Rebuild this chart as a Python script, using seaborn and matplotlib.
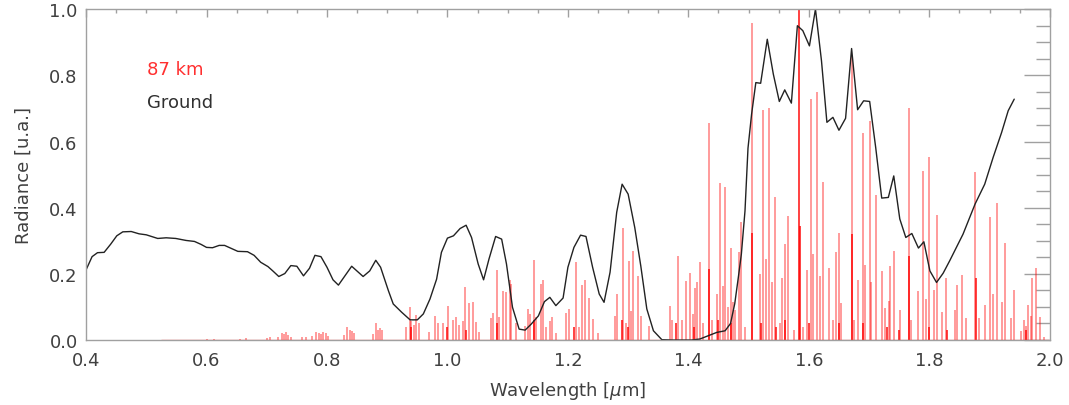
import matplotlib
matplotlib.use('Agg')
import matplotlib.pyplot as plt
import pandas as pd
import seaborn as sns
from matplotlib.ticker import MultipleLocator, FormatStrFormatter

# ground spectrum (black curve)
ground_wl = [0.400, 0.410, 0.419, 0.430, 0.441, 0.451, 0.461, 0.475, 0.488, 0.500,
             0.519, 0.533, 0.549, 0.566, 0.580, 0.591, 0.600, 0.610, 0.621, 0.630,
             0.641, 0.652, 0.668, 0.679, 0.690, 0.702, 0.710, 0.720, 0.730, 0.740,
             0.750, 0.761, 0.771, 0.780, 0.790, 0.800, 0.810, 0.819, 0.841, 0.860,
             0.871, 0.881, 0.889, 0.902, 0.910, 0.924, 0.938, 0.950, 0.960, 0.971,
             0.982, 0.990, 1.000, 1.010, 1.021, 1.031, 1.040, 1.051, 1.060, 1.069,
             1.080, 1.090, 1.098, 1.108, 1.119, 1.129, 1.139, 1.151, 1.161, 1.170,
             1.180, 1.192, 1.200, 1.210, 1.221, 1.230, 1.241, 1.252, 1.260, 1.270,
             1.281, 1.290, 1.300, 1.311, 1.321, 1.331, 1.342, 1.356, 1.375, 1.405,
             1.419, 1.436, 1.447, 1.461, 1.470, 1.477, 1.483, 1.488, 1.494, 1.499,
             1.505, 1.512, 1.520, 1.531, 1.541, 1.551, 1.560, 1.571, 1.581, 1.590,
             1.601, 1.611, 1.621, 1.630, 1.640, 1.650, 1.661, 1.671, 1.681, 1.691,
             1.701, 1.711, 1.721, 1.732, 1.741, 1.751, 1.761, 1.771, 1.782, 1.791,
             1.801, 1.812, 1.823, 1.834, 1.856, 1.876, 1.892, 1.906, 1.920, 1.931,
             1.941]
ground_rad = [0.212, 0.252, 0.264, 0.265, 0.290, 0.315, 0.327, 0.328, 0.321, 0.318,
              0.307, 0.309, 0.307, 0.301, 0.298, 0.289, 0.280, 0.279, 0.286, 0.286,
              0.277, 0.268, 0.267, 0.256, 0.235, 0.222, 0.209, 0.192, 0.201, 0.225,
              0.223, 0.194, 0.217, 0.256, 0.252, 0.220, 0.182, 0.166, 0.223, 0.192,
              0.209, 0.241, 0.220, 0.149, 0.109, 0.084, 0.061, 0.061, 0.079, 0.124,
              0.184, 0.265, 0.308, 0.315, 0.337, 0.347, 0.310, 0.230, 0.182, 0.245,
              0.313, 0.305, 0.230, 0.099, 0.033, 0.030, 0.048, 0.073, 0.116, 0.129,
              0.104, 0.127, 0.220, 0.280, 0.317, 0.313, 0.220, 0.139, 0.114, 0.205,
              0.386, 0.471, 0.441, 0.340, 0.224, 0.094, 0.028, 0.001, 0.000, 0.000,
              0.003, 0.015, 0.023, 0.028, 0.050, 0.110, 0.190, 0.260, 0.390, 0.580,
              0.683, 0.778, 0.776, 0.909, 0.804, 0.721, 0.756, 0.716, 0.950, 0.935,
              0.889, 1.000, 0.844, 0.658, 0.673, 0.634, 0.670, 0.881, 0.696, 0.723,
              0.721, 0.582, 0.429, 0.431, 0.496, 0.366, 0.310, 0.322, 0.278, 0.297,
              0.209, 0.174, 0.202, 0.240, 0.320, 0.411, 0.471, 0.552, 0.627, 0.693,
              0.728]

# 87 km emission lines (faint, anti-aliased looking)
line_wl = [0.600, 0.612, 0.655, 0.665, 0.700, 0.705, 0.718, 0.725, 0.728, 0.732,
           0.736, 0.740, 0.758, 0.765, 0.775, 0.782, 0.786, 0.790, 0.794, 0.798,
           0.802, 0.828, 0.834, 0.838, 0.841, 0.845, 0.877, 0.882, 0.885, 0.888,
           0.891, 0.932, 0.938, 0.940, 0.944, 0.948, 0.952, 0.970, 0.979, 0.985,
           0.992, 1.001, 1.009, 1.014, 1.019, 1.025, 1.029, 1.036, 1.042, 1.047,
           1.053, 1.073, 1.076, 1.083, 1.086, 1.093, 1.098, 1.104, 1.106, 1.113,
           1.129, 1.134, 1.137, 1.144, 1.147, 1.155, 1.159, 1.163, 1.170, 1.173,
           1.180, 1.197, 1.201, 1.213, 1.218, 1.223, 1.228, 1.235, 1.241, 1.250,
           1.278, 1.282, 1.291, 1.296, 1.302, 1.304, 1.308, 1.316, 1.322, 1.334,
           1.369, 1.372, 1.383, 1.389, 1.396, 1.403, 1.408, 1.411, 1.414, 1.419,
           1.425, 1.435, 1.440, 1.447, 1.452, 1.457, 1.461, 1.466, 1.470, 1.474,
           1.478, 1.484, 1.488, 1.494, 1.506, 1.519, 1.524, 1.529, 1.534, 1.539,
           1.544, 1.552, 1.555, 1.560, 1.566, 1.575, 1.590, 1.597, 1.603, 1.607,
           1.613, 1.619, 1.624, 1.634, 1.640, 1.645, 1.650, 1.654, 1.671, 1.675,
           1.682, 1.690, 1.693, 1.701, 1.704, 1.712, 1.721, 1.726, 1.733, 1.735,
           1.742, 1.751, 1.766, 1.770, 1.782, 1.790, 1.794, 1.800, 1.808, 1.812,
           1.821, 1.827, 1.842, 1.846, 1.855, 1.861, 1.876, 1.882, 1.893, 1.901,
           1.906, 1.913, 1.921, 1.926, 1.936, 1.940, 1.953, 1.957, 1.960, 1.964,
           1.969, 1.971, 1.977, 1.984, 1.990]
line_rad = [0.004, 0.003, 0.004, 0.005, 0.006, 0.008, 0.010, 0.022, 0.018, 0.025,
            0.015, 0.010, 0.008, 0.010, 0.012, 0.025, 0.020, 0.018, 0.025, 0.020,
            0.012, 0.015, 0.038, 0.030, 0.026, 0.020, 0.018, 0.051, 0.030, 0.035,
            0.030, 0.038, 0.099, 0.058, 0.045, 0.076, 0.053, 0.025, 0.073, 0.051,
            0.050, 0.104, 0.060, 0.069, 0.045, 0.058, 0.159, 0.112, 0.114, 0.055,
            0.025, 0.066, 0.082, 0.212, 0.070, 0.149, 0.145, 0.182, 0.169, 0.050,
            0.043, 0.094, 0.080, 0.242, 0.070, 0.169, 0.182, 0.040, 0.058, 0.070,
            0.020, 0.082, 0.094, 0.235, 0.040, 0.166, 0.181, 0.127, 0.063, 0.020,
            0.073, 0.139, 0.340, 0.050, 0.240, 0.088, 0.270, 0.194, 0.073, 0.043,
            0.104, 0.060, 0.253, 0.060, 0.179, 0.204, 0.080, 0.156, 0.174, 0.237,
            0.050, 0.656, 0.060, 0.139, 0.474, 0.164, 0.464, 0.100, 0.277, 0.114,
            0.090, 0.267, 0.356, 0.040, 0.957, 0.201, 0.695, 0.245, 0.700, 0.174,
            0.433, 0.050, 0.189, 0.290, 0.376, 0.030, 0.040, 0.211, 0.728, 0.260,
            0.750, 0.194, 0.479, 0.219, 0.060, 0.265, 0.325, 0.111, 0.859, 0.060,
            0.181, 0.625, 0.227, 0.663, 0.174, 0.438, 0.209, 0.097, 0.117, 0.223,
            0.270, 0.091, 0.700, 0.060, 0.147, 0.512, 0.124, 0.552, 0.151, 0.378,
            0.084, 0.189, 0.091, 0.166, 0.196, 0.066, 0.507, 0.066, 0.106, 0.371,
            0.139, 0.413, 0.114, 0.292, 0.066, 0.152, 0.028, 0.060, 0.043, 0.106,
            0.073, 0.189, 0.217, 0.071, 0.010]

# strong (saturated) lines
strong_wl = [0.939, 1.000, 1.030, 1.082, 1.143, 1.210, 1.290, 1.300, 1.380, 1.410,
             1.435, 1.450, 1.470, 1.506, 1.520, 1.545, 1.560, 1.584, 1.585, 1.600,
             1.650, 1.671, 1.690, 1.730, 1.750, 1.767, 1.800, 1.830, 1.878, 1.960]
strong_rad = [0.040, 0.040, 0.030, 0.050, 0.060, 0.040, 0.060, 0.040, 0.050, 0.040,
              0.214, 0.060, 0.050, 0.325, 0.050, 0.040, 0.060, 1.000, 0.345, 0.050,
              0.050, 0.320, 0.050, 0.040, 0.030, 0.255, 0.040, 0.030, 0.187, 0.030]

# red spectrum extends over this range (baseline)
red_range = [0.525, 1.998]

ground = pd.DataFrame({'wl': ground_wl, 'rad': ground_rad})

sns.set_style('white')
plt.rcParams['font.family'] = ['DejaVu Sans']

fig, ax = plt.subplots(figsize=(10.69, 4.06), dpi=100)
fig.subplots_adjust(left=0.0805, right=0.982, bottom=0.160, top=0.975)

txt = '#404040'
edge = '#a0a0a0'

ax.hlines(0, red_range[0], red_range[1], color='red', lw=1.0, alpha=0.6)
ax.vlines(line_wl, 0, line_rad, color='red', lw=1.1, alpha=0.5)
ax.vlines(strong_wl, 0, strong_rad, color='red', lw=1.1, alpha=0.95)
sns.lineplot(data=ground, x='wl', y='rad', color='#222222', lw=1.0, ax=ax,
             sort=False, estimator=None)

ax.set_xlim(0.4, 2.0)
ax.set_ylim(0, 1.0)
ax.xaxis.set_major_locator(MultipleLocator(0.2))
ax.xaxis.set_minor_locator(MultipleLocator(0.05))
ax.yaxis.set_major_locator(MultipleLocator(0.2))
ax.yaxis.set_minor_locator(MultipleLocator(0.05))
ax.xaxis.set_major_formatter(FormatStrFormatter('%.1f'))
ax.yaxis.set_major_formatter(FormatStrFormatter('%.1f'))

ax.tick_params(axis='both', which='both', direction='in', top=True, right=True,
               color=edge, labelcolor=txt, labelsize=13, width=1.0)
ax.tick_params(axis='x', which='major', length=6, pad=8)
ax.tick_params(axis='x', which='minor', length=3)
ax.tick_params(axis='y', which='major', length=19, pad=6)
ax.tick_params(axis='y', which='minor', length=10)
for s in ax.spines.values():
    s.set_color(edge)
    s.set_linewidth(1.0)

ax.set_xlabel(r'Wavelength [$\mu$m]', color=txt, fontsize=13, labelpad=7)
ax.set_ylabel('Radiance [u.a.]', color=txt, fontsize=13, labelpad=12)

ax.text(0.063, 0.82, '87 km', color='#ff3030', fontsize=13,
        transform=ax.transAxes, va='center', ha='left')
ax.text(0.063, 0.72, 'Ground', color='#303030', fontsize=13,
        transform=ax.transAxes, va='center', ha='left')

fig.savefig('out.png', dpi=100)
